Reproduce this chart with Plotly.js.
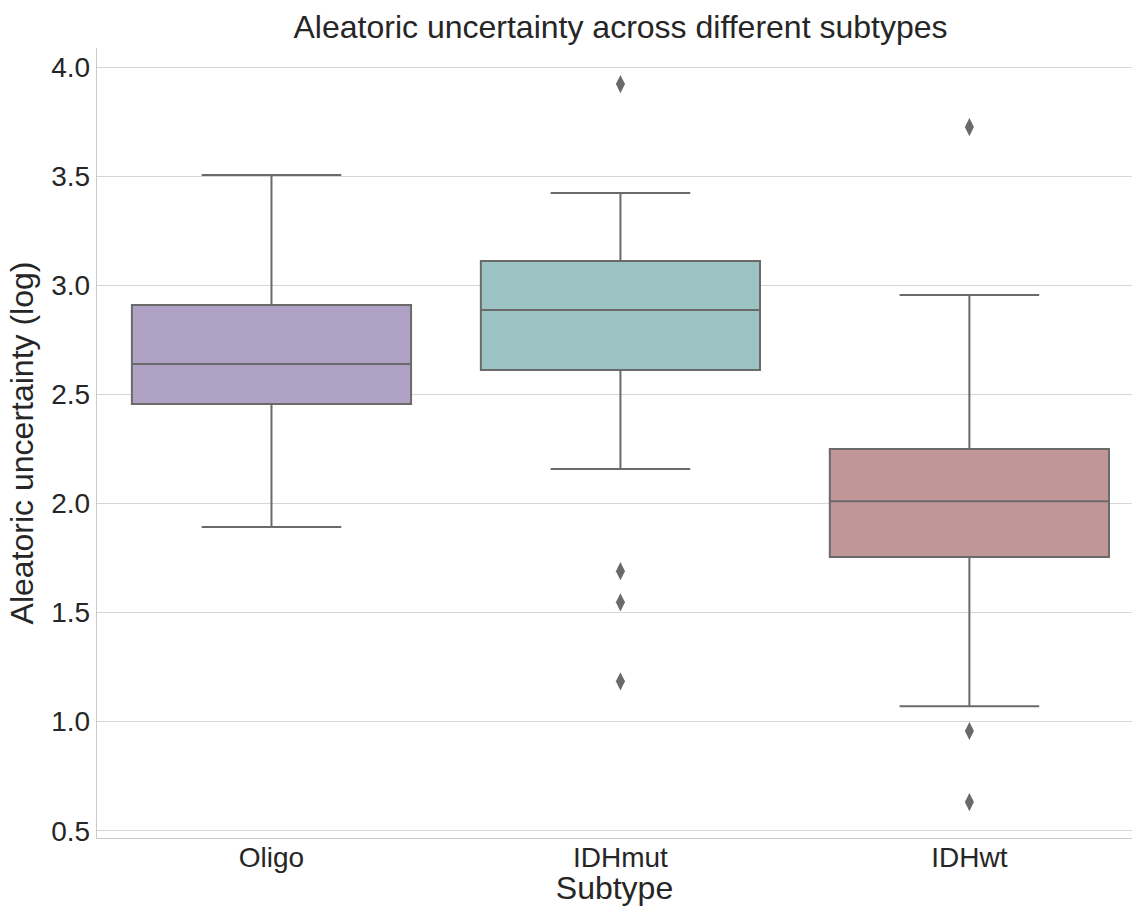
<!DOCTYPE html>
<html>
<head>
<meta charset="utf-8">
<script src="https://cdn.plot.ly/plotly-3.0.1.min.js"></script>
<style>html,body{margin:0;padding:0;background:#fff;}#chart{width:1132px;height:906px;}</style>
</head>
<body>
<div id="chart"></div>
<script>
// Data
const categories = ["Oligo", "IDHmut", "IDHwt"];
const lowerWhisker = [1.892, 2.158, 1.071];
const q1Values     = [2.456, 2.612, 1.755];
const medianValues = [2.640, 2.887, 2.011];
const q3Values     = [2.910, 3.112, 2.250];
const upperWhisker = [3.506, 3.424, 2.956];
const outlierCats   = ["IDHmut", "IDHmut", "IDHmut", "IDHmut", "IDHwt", "IDHwt", "IDHwt"];
const outlierValues = [3.923, 1.690, 1.547, 1.185, 3.726, 0.957, 0.631];
const boxColors = ["#b0a2c5", "#9bc3c3", "#c09796"];
const yTicks = [0.5, 1.0, 1.5, 2.0, 2.5, 3.0, 3.5, 4.0];

const lineColor = "#6a6a6a";
const textColor = "#262626";
const fontFam = "Liberation Sans, Arial, sans-serif";

const traces = categories.map((c, i) => ({
  type: "box",
  name: c,
  x: [c],
  q1: [q1Values[i]],
  median: [medianValues[i]],
  q3: [q3Values[i]],
  lowerfence: [lowerWhisker[i]],
  upperfence: [upperWhisker[i]],
  width: 0.8,
  whiskerwidth: 0.5,
  fillcolor: boxColors[i],
  line: {color: lineColor, width: 2},
  boxpoints: false,
  hoverinfo: "skip",
  showlegend: false
}));

traces.push({
  type: "scatter",
  mode: "markers",
  x: outlierCats,
  y: outlierValues,
  marker: {symbol: "diamond-tall", size: 13, color: lineColor, line: {width: 0}},
  showlegend: false,
  hoverinfo: "skip"
});

const layout = {
  width: 1132,
  height: 906,
  margin: {l: 97, r: 0, t: 48, b: 68, pad: 0},
  paper_bgcolor: "#ffffff",
  plot_bgcolor: "#ffffff",
  font: {family: fontFam, color: textColor, size: 29},
  title: {
    text: "Aleatoric uncertainty across different subtypes",
    font: {family: fontFam, size: 32, color: textColor},
    xref: "paper", x: 0.5058, xanchor: "center",
    yref: "container", y: 1 - 38/906, yanchor: "bottom"
  },
  xaxis: {
    type: "category",
    categoryorder: "array",
    categoryarray: categories,
    range: [-0.5, 2.466],
    showgrid: false,
    zeroline: false,
    showline: true,
    linecolor: "#cccccc",
    linewidth: 1.25,
    ticks: "",
    ticklabelstandoff: -6,
    tickfont: {size: 28, color: textColor, family: fontFam},
    title: {text: "\u00A0Subtype", font: {size: 32, color: textColor, family: fontFam}, standoff: 2}
  },
  yaxis: {
    range: [0.4665, 4.0885],
    tickvals: yTicks,
    ticktext: yTicks.map(v => v.toFixed(1)),
    showgrid: true,
    gridcolor: "#d6d6d6",
    gridwidth: 1.3,
    zeroline: false,
    showline: true,
    linecolor: "#cccccc",
    linewidth: 1.25,
    ticks: "",
    tickfont: {size: 28, color: textColor, family: fontFam},
    title: {text: "Aleatoric uncertainty (log)", font: {size: 32, color: textColor, family: fontFam}, standoff: 8}
  }
};

Plotly.newPlot("chart", traces, layout, {staticPlot: true, displayModeBar: false});
</script>
</body>
</html>
